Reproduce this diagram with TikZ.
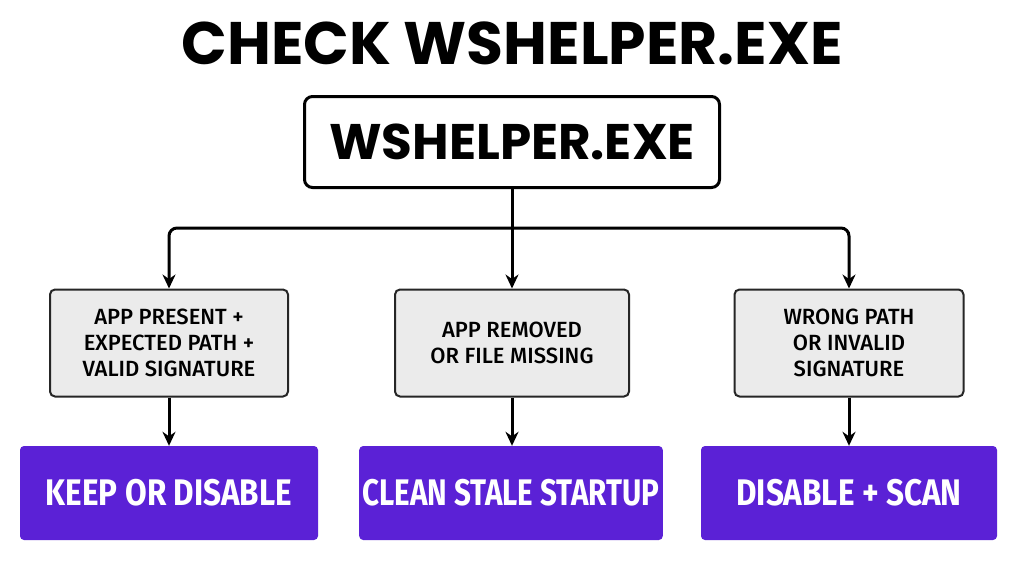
\documentclass[tikz,border=0pt]{standalone}
\usepackage{fontspec}
\usetikzlibrary{arrows.meta}
\setmainfont{Fira Sans}
\newfontfamily\pop{Poppins}
\begin{document}
\begin{tikzpicture}[x=1pt,y=-1pt,
  mid/.style={draw=black!85,line width=2pt,fill=black!8,rounded corners=5pt,align=center,font=\fontsize{22}{26}\selectfont\fontspec{Fira Sans Medium}},
  bot/.style={rounded corners=4pt,text=white,font=\fontsize{37}{40}\selectfont\bfseries},
  arr/.style={line width=3pt,-{Stealth[length=14pt,width=13pt]}}]
\useasboundingbox (0,0) rectangle (1024,576);
\fill[white] (0,0) rectangle (1024,576);
\definecolor{pur}{HTML}{5B21D6}
\node[font=\fontsize{60}{62}\selectfont\pop\bfseries] (title) at (512,43) {CHECK WSHELPER.EXE};
\node[draw,line width=3pt,rounded corners=8pt,minimum width=415pt,minimum height=91pt,font=\fontsize{50}{54}\selectfont\pop\bfseries] (top) at (512,142) {WSHELPER.EXE};
\node[mid,minimum width=238pt,minimum height=107pt] (m1) at (169,343) {APP PRESENT +\\EXPECTED PATH +\\VALID SIGNATURE};
\node[mid,minimum width=234pt,minimum height=107pt] (m2) at (512,343) {APP REMOVED\\OR FILE MISSING};
\node[mid,minimum width=229pt,minimum height=107pt] (m3) at (849,343) {WRONG PATH\\OR INVALID\\SIGNATURE};
\node[bot,fill=pur,minimum width=298pt,minimum height=94pt] (b1) at (169,493) {\scalebox{0.85}[1]{KEEP OR DISABLE}};
\node[bot,fill=pur,minimum width=301pt,minimum height=94pt] (b2) at (511,493) {\scalebox{0.8}[1]{CLEAN STALE STARTUP}};
\node[bot,fill=pur,minimum width=296pt,minimum height=94pt] (b3) at (849,493) {\scalebox{0.85}[1]{DISABLE + SCAN}};
\coordinate (j) at (512,228);
\draw[line width=3pt] (top.south) -- (j);
\draw[arr,rounded corners=8pt] (j) -- (169,228) -- (m1.north);
\draw[arr,rounded corners=8pt] (j) -- (849,228) -- (m3.north);
\draw[arr] (j) -- (m2.north);
\draw[arr] (m1.south) -- (b1.north);
\draw[arr] (m2.south) -- (b2.north-|m2.south);
\draw[arr] (m3.south) -- (b3.north);
\end{tikzpicture}
\end{document}
